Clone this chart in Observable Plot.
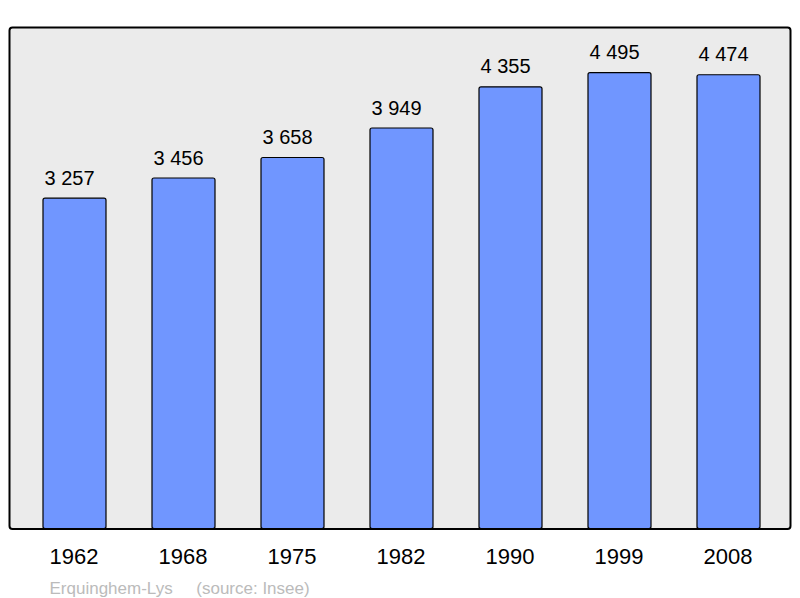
<!DOCTYPE html>
<html>
<head>
<meta charset="utf-8">
<script src="https://cdn.jsdelivr.net/npm/d3@7"></script>
<script src="https://cdn.jsdelivr.net/npm/@observablehq/plot@0.6"></script>
<style>
  html, body { margin: 0; padding: 0; background: #ffffff; }
  svg { display: block; }
</style>
</head>
<body>
<div id="chart"></div>
<script>
const years = ["1962", "1968", "1975", "1982", "1990", "1999", "2008"];
const population = [3257, 3456, 3658, 3949, 4355, 4495, 4474];
const captionText = "Erquinghem-Lys\u00a0\u00a0\u00a0\u00a0 (source: Insee)";

const data = years.map((y, i) => ({year: y, value: population[i]}));
const fmt = d3.formatLocale({decimal: ",", thousands: " ", grouping: [3], currency: ["", ""]}).format(",d");

const font = "'Liberation Sans', Arial, sans-serif";

const chart = Plot.plot({
  width: 800,
  height: 598,
  marginTop: 27,
  marginBottom: 69.5,
  marginLeft: 9,
  marginRight: 10,
  style: {fontFamily: font, background: "#ffffff", overflow: "visible"},
  x: {domain: years, range: [41.5, 760.5], paddingInner: 0.424, paddingOuter: 0, label: null},
  y: {domain: [0, 4945], axis: null},
  marks: [
    Plot.frame({fill: "#ebebeb", stroke: null, rx: 3}),
    Plot.barY(data, {x: "year", y: "value", fill: "#7096ff", stroke: "#000000", strokeWidth: 1.2, rx: 2}),
    Plot.text(data, {x: "year", y: "value", text: d => fmt(d.value), lineAnchor: "bottom", dy: -14, dx: -5.5, fontSize: 20, fill: "#000000"}),
    Plot.frame({stroke: "#000000", strokeWidth: 2, rx: 3}),
    Plot.axisX({tickSize: 0, tickPadding: 19, fontSize: 22, dx: -1, label: null, fill: "#000000"}),
    Plot.text([captionText], {frameAnchor: "bottom-left", textAnchor: "start", lineAnchor: "bottom", dx: 40, dy: 64.5, fontSize: 17, fill: "#bbbbbb"})
  ]
});
document.getElementById("chart").appendChild(chart);
</script>
</body>
</html>
